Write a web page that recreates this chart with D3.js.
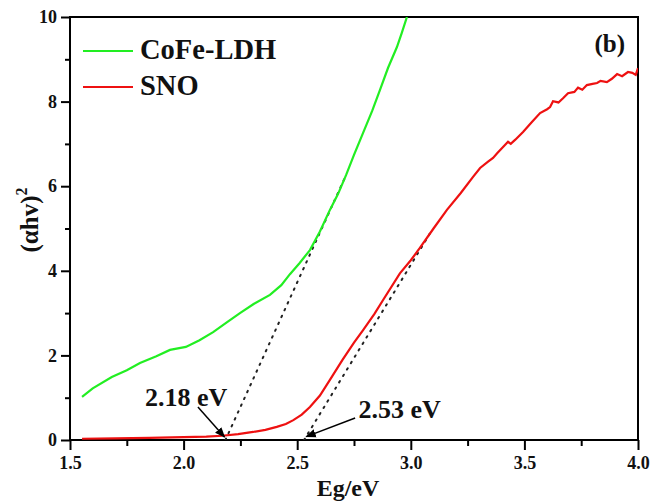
<!DOCTYPE html>
<html>
<head>
<meta charset="utf-8">
<script src="https://cdn.jsdelivr.net/npm/d3@7"></script>
<style>
  body { margin: 0; background: #fff; }
  svg { display: block; }
  text { font-family: "Liberation Serif", "Times New Roman", Tinos, serif; font-weight: bold; }
</style>
</head>
<body>
<svg class="main-svg" width="662" height="501"></svg>
<script>
// CoFe-LDH curve
const cofeX = [1.553, 1.60, 1.684, 1.75, 1.808, 1.88, 1.94, 2.01, 2.07, 2.13, 2.19, 2.248, 2.31, 2.38, 2.43, 2.468, 2.51, 2.556, 2.60, 2.644, 2.68, 2.715, 2.75, 2.79, 2.83, 2.864, 2.90, 2.939, 2.96, 2.983];
const cofeY = [1.02, 1.22, 1.49, 1.65, 1.82, 1.98, 2.13, 2.20, 2.36, 2.55, 2.78, 3.00, 3.22, 3.43, 3.66, 3.92, 4.18, 4.49, 4.93, 5.44, 5.82, 6.26, 6.74, 7.26, 7.78, 8.27, 8.80, 9.29, 9.62, 10.0];

// SNO curve
const snoX = [1.553, 1.70, 1.85, 2.00, 2.10, 2.17, 2.24, 2.306, 2.36, 2.41, 2.45, 2.483, 2.52, 2.556, 2.60, 2.644, 2.70, 2.75, 2.79, 2.84, 2.878, 2.952, 3.00, 3.04, 3.10, 3.159, 3.22, 3.274, 3.305, 3.34, 3.362, 3.38, 3.428, 3.44, 3.46, 3.494, 3.53, 3.569, 3.60, 3.613, 3.626, 3.65, 3.67, 3.692, 3.72, 3.736, 3.755, 3.775, 3.80, 3.82, 3.835, 3.863, 3.885, 3.908, 3.93, 3.956, 3.975, 3.99, 4.0];
const snoY = [0.03, 0.04, 0.05, 0.07, 0.08, 0.10, 0.14, 0.19, 0.24, 0.31, 0.38, 0.47, 0.60, 0.78, 1.05, 1.42, 1.90, 2.30, 2.60, 2.98, 3.31, 3.94, 4.25, 4.54, 5.00, 5.44, 5.84, 6.22, 6.43, 6.58, 6.67, 6.78, 7.05, 7.00, 7.10, 7.28, 7.50, 7.73, 7.82, 7.87, 8.01, 7.98, 8.08, 8.20, 8.23, 8.33, 8.28, 8.39, 8.42, 8.44, 8.49, 8.46, 8.54, 8.65, 8.60, 8.70, 8.68, 8.63, 8.79];

// tangent (extrapolation) lines
const cofeFitX = [2.184, 2.715];
const cofeFitY = [0.0, 6.26];
const snoFitX = [2.53, 3.093];
const snoFitY = [0.0, 4.96];

const xTicks = [1.5, 2.0, 2.5, 3.0, 3.5, 4.0];
const yTicks = [0, 2, 4, 6, 8, 10];
const xMinor = [1.75, 2.25, 2.75, 3.25, 3.75];
const yMinor = [1, 3, 5, 7, 9];

const FONT = "Liberation Serif";
const GREEN = "#22ee22";
const RED = "#ee1111";

const svg = d3.select(".main-svg");
const margin = {left: 70, right: 24, top: 17, bottom: 61};
const width = 662 - margin.left - margin.right;
const height = 501 - margin.top - margin.bottom;

const x = d3.scaleLinear().domain([1.5, 4.0]).range([0, width]);
const y = d3.scaleLinear().domain([0, 10]).range([height, 0]);

const g = svg.append("g").attr("transform", `translate(${margin.left},${margin.top})`);

const defs = svg.append("defs");
defs.append("clipPath").attr("id", "clip")
  .append("rect").attr("width", width).attr("height", height);

// frame
g.append("rect")
  .attr("width", width).attr("height", height)
  .attr("fill", "none").attr("stroke", "#000").attr("stroke-width", 2);

// minor ticks
g.append("g").attr("transform", `translate(0,${height})`)
  .call(d3.axisBottom(x).tickValues(xMinor).tickSize(6).tickFormat(""))
  .call(a => a.select(".domain").remove())
  .selectAll("line").attr("stroke-width", 2);
g.append("g")
  .call(d3.axisLeft(y).tickValues(yMinor).tickSize(5).tickFormat(""))
  .call(a => a.select(".domain").remove())
  .selectAll("line").attr("stroke-width", 2);

// major ticks
const xAxis = g.append("g").attr("transform", `translate(0,${height})`)
  .call(d3.axisBottom(x).tickValues(xTicks).tickSize(10).tickPadding(6).tickFormat(d3.format(".1f")));
xAxis.select(".domain").remove();
xAxis.selectAll("line").attr("stroke-width", 2);
xAxis.selectAll("text").attr("font-size", 18).attr("font-family", FONT).attr("fill", "#111");

const yAxis = g.append("g")
  .call(d3.axisLeft(y).tickValues(yTicks).tickSize(9).tickPadding(4).tickFormat(d3.format("d")));
yAxis.select(".domain").remove();
yAxis.selectAll("line").attr("stroke-width", 2);
yAxis.selectAll("text").attr("font-size", 18).attr("font-family", FONT).attr("fill", "#111");

const line = d3.line().x(d => x(d[0])).y(d => y(d[1]));

const plot = g.append("g").attr("clip-path", "url(#clip)");

// tangent lines
[[cofeFitX, cofeFitY], [snoFitX, snoFitY]].forEach(([fx, fy]) => {
  plot.append("path")
    .datum(d3.zip(fx, fy))
    .attr("d", line)
    .attr("fill", "none").attr("stroke", "#222").attr("stroke-width", 2)
    .attr("stroke-dasharray", "1.5,6").attr("stroke-linecap", "round");
});

// data curves
plot.append("path")
  .datum(d3.zip(cofeX, cofeY))
  .attr("d", line)
  .attr("fill", "none").attr("stroke", GREEN).attr("stroke-width", 2.2);
plot.append("path")
  .datum(d3.zip(snoX, snoY))
  .attr("d", line)
  .attr("fill", "none").attr("stroke", RED).attr("stroke-width", 2.2);

// arrows
defs.append("marker")
  .attr("id", "arrow").attr("viewBox", "0 0 10 10")
  .attr("refX", 9).attr("refY", 5)
  .attr("markerWidth", 7).attr("markerHeight", 7)
  .attr("orient", "auto")
  .append("path").attr("d", "M0,1 L10,5 L0,9 Z").attr("fill", "#000");

g.append("line")
  .attr("x1", x(2.063)).attr("y1", y(0.78))
  .attr("x2", x(2.18)).attr("y2", y(0.07))
  .attr("stroke", "#000").attr("stroke-width", 1.5)
  .attr("marker-end", "url(#arrow)");
g.append("line")
  .attr("x1", x(2.755)).attr("y1", y(0.52))
  .attr("x2", x(2.54)).attr("y2", y(0.08))
  .attr("stroke", "#000").attr("stroke-width", 1.5)
  .attr("marker-end", "url(#arrow)");

g.append("text").attr("x", x(1.83)).attr("y", y(0.8))
  .attr("font-family", FONT).attr("font-size", 26).attr("fill", "#111").text("2.18 eV");
g.append("text").attr("x", x(2.77)).attr("y", y(0.51))
  .attr("font-family", FONT).attr("font-size", 26).attr("fill", "#111").text("2.53 eV");

// legend
const legend = [["CoFe-LDH", GREEN], ["SNO", RED]];
legend.forEach(([name, color], i) => {
  const ly = 34 + i * 36;
  g.append("line")
    .attr("x1", 13).attr("x2", 63).attr("y1", ly).attr("y2", ly)
    .attr("stroke", color).attr("stroke-width", 2.2);
  g.append("text").attr("x", 70).attr("y", ly + 8)
    .attr("font-family", FONT).attr("font-size", 28.5).attr("fill", "#111").text(name);
});

// panel label
g.append("text").attr("x", width - 13).attr("y", 35)
  .attr("text-anchor", "end").attr("font-family", FONT).attr("font-size", 25).attr("fill", "#111").text("(b)");

// axis titles
svg.append("text").attr("x", margin.left + width / 2 - 6).attr("y", 496)
  .attr("text-anchor", "middle").attr("font-family", FONT).attr("font-size", 24).attr("fill", "#111").text("Eg/eV");

const yt = svg.append("text")
  .attr("transform", "translate(38,220) rotate(-90)")
  .attr("text-anchor", "middle").attr("font-family", FONT).attr("font-size", 25).attr("fill", "#111");
yt.append("tspan").text("(\u03b1hv)");
yt.append("tspan").attr("dy", -11).attr("font-size", 16).text("2");
</script>
</body>
</html>
